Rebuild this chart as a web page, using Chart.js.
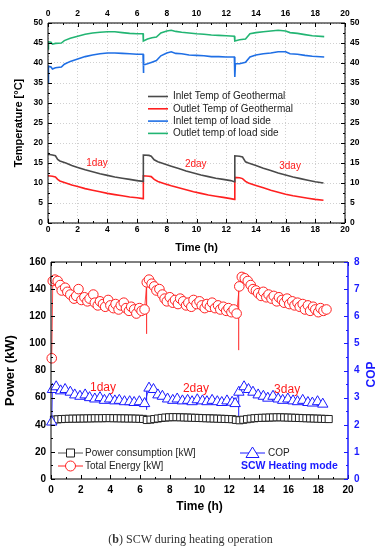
<!DOCTYPE html>
<html>
<head>
<meta charset="utf-8">
<script src="https://cdn.jsdelivr.net/npm/chart.js@4.4.0/dist/chart.umd.min.js"></script>
<style>
  html, body { margin: 0; padding: 0; background: #fff; }
  #wrap { position: relative; width: 381px; height: 550px; overflow: hidden; }
  #tempChart { position: absolute; left: 0; top: 0; }
  #powerChart { position: absolute; left: 0; top: 250px; }
  #caption { position: absolute; left: 0; top: 532px; width: 381px; text-align: center;
             font: 12px "Liberation Serif", "DejaVu Serif", serif; color: #333; }
</style>
</head>
<body>
<div id="wrap">
  <canvas id="tempChart" width="381" height="258"></canvas>
  <canvas id="powerChart" width="381" height="265"></canvas>
  <div id="caption">(<b>b</b>) SCW during heating operation</div>
</div>
<script>
// ---------- top panel: temperatures [°C] vs time (h) ----------
const geoTime = [0, 0.3, 0.5, 0.65, 0.8, 1.2, 1.6, 2, 2.5, 3, 3.5, 4, 4.5, 5, 5.5, 6, 6.4,
  6.42, 6.8, 6.95, 7.15, 7.4, 7.8, 8.3, 8.8, 9.3, 9.8, 10.3, 10.8, 11.3, 11.8, 12.3, 12.55,
  12.58, 12.9, 13.1, 13.3, 13.5, 14, 14.5, 15, 15.5, 16, 16.5, 17, 17.5, 18, 18.55];
const geoInlet = [17.2, 17.0, 16.8, 15.9, 15.5, 15.0, 14.4, 13.9, 13.3, 12.8, 12.3, 11.9, 11.5, 11.2, 10.9, 10.6, 10.4,
  17.0, 16.9, 16.7, 15.8, 15.3, 14.8, 14.2, 13.6, 13.0, 12.5, 12.0, 11.6, 11.2, 10.9, 10.6, 10.3,
  16.8, 16.7, 16.5, 15.3, 15.0, 14.4, 13.7, 13.1, 12.5, 12.0, 11.5, 11.1, 10.7, 10.3, 10.0];
const geoOutlet = [11.8, 11.7, 11.5, 10.9, 10.5, 10.0, 9.5, 9.1, 8.6, 8.2, 7.8, 7.4, 7.1, 6.8, 6.5, 6.3, 6.1,
  11.8, 11.7, 11.6, 10.9, 10.4, 9.9, 9.3, 8.8, 8.3, 7.8, 7.4, 7.0, 6.7, 6.4, 6.1, 5.9,
  11.4, 11.3, 11.1, 10.4, 10.0, 9.4, 8.8, 8.2, 7.7, 7.2, 6.8, 6.5, 6.2, 5.9, 5.7];

const loadInTime = [0, 0.03, 0.2, 0.3, 0.5, 0.9, 1.1, 1.5, 2, 2.5, 3, 3.5, 4, 4.5, 5, 5.5, 6, 6.4,
  6.42, 6.45, 6.7, 7.0, 7.3, 7.6, 8.0, 8.3, 8.6, 9, 9.5, 10, 10.5, 11, 11.5, 12, 12.55,
  12.58, 12.62, 12.9, 13.3, 13.6, 14, 14.5, 15, 15.5, 16, 16.3, 16.8, 17.3, 17.8, 18.6];
const loadInlet = [35.0, 39.2, 39.0, 38.5, 38.8, 39.0, 39.7, 40.4, 41.0, 41.6, 42.0, 42.3, 42.5, 42.5, 42.4, 42.3, 42.2, 42.2,
  37.5, 39.5, 39.8, 40.2, 40.6, 41.8, 42.5, 42.8, 42.4, 42.3, 42.0, 41.9, 41.8, 41.6, 41.6, 41.5, 41.5,
  36.5, 39.8, 39.8, 40.2, 41.5, 42.0, 42.3, 42.5, 42.8, 42.8, 42.3, 42.2, 41.9, 41.7, 41.5];

const loadOutTime = [0, 0.03, 0.2, 0.3, 0.5, 0.9, 1.1, 1.5, 2, 2.5, 3, 3.5, 4, 4.5, 5, 5.5, 6, 6.4,
  6.42, 6.7, 7.0, 7.3, 7.6, 8.0, 8.3, 8.6, 9, 9.5, 10, 10.5, 11, 11.5, 12, 12.55,
  12.58, 12.9, 13.3, 13.6, 14, 14.5, 15, 15.5, 16, 16.3, 16.8, 17.3, 17.8, 18.6];
const loadOutlet = [43.5, 45.3, 45.2, 44.7, 44.9, 45.0, 45.6, 46.2, 46.7, 47.2, 47.5, 47.7, 47.8, 47.8, 47.6, 47.4, 47.3, 47.3,
  45.5, 46.0, 46.3, 46.5, 47.5, 48.0, 48.2, 47.9, 47.7, 47.5, 47.3, 47.2, 47.0, 46.9, 46.8, 46.7,
  45.5, 45.8, 46.0, 47.3, 47.6, 47.8, 48.0, 48.2, 48.0, 47.6, 47.4, 47.1, 46.8, 46.6];

// ---------- bottom panel: power (kW) and COP vs time (h) ----------
const powerTime = [0.2, 0.45, 0.7, 0.95, 1.2, 1.45, 1.7, 1.95, 2.2, 2.45, 2.7, 2.95, 3.2, 3.45, 3.7, 3.95, 4.2, 4.45, 4.7, 4.95, 5.2, 5.45, 5.7, 5.95, 6.2,
  6.45, 6.7, 6.95, 7.2, 7.45, 7.7, 7.95, 8.2, 8.45, 8.7, 8.95, 9.2, 9.45, 9.7, 9.95, 10.2, 10.45, 10.7, 10.95, 11.2, 11.45, 11.7, 11.95, 12.2, 12.45,
  12.7, 12.95, 13.2, 13.45, 13.7, 13.95, 14.2, 14.45, 14.7, 14.95, 15.2, 15.45, 15.7, 15.95, 16.2, 16.45, 16.7, 16.95, 17.2, 17.45, 17.7, 17.95, 18.2, 18.45, 18.7];
const powerUse = [43.8, 44.0, 44.2, 44.3, 44.4, 44.5, 44.5, 44.6, 44.6, 44.7, 44.7, 44.8, 44.8, 44.8, 44.9, 44.9, 44.8, 44.8, 44.7, 44.7, 44.6, 44.6, 44.5, 44.4, 44.3,
  43.5, 43.8, 44.2, 44.6, 45.0, 45.3, 45.5, 45.6, 45.6, 45.5, 45.4, 45.3, 45.2, 45.1, 45.0, 44.9, 44.8, 44.7, 44.6, 44.5, 44.4, 44.3, 44.2, 44.1, 43.6,
  43.3, 43.7, 44.1, 44.5, 44.8, 45.0, 45.1, 45.2, 45.3, 45.4, 45.5, 45.5, 45.4, 45.3, 45.2, 45.1, 45.0, 44.9, 44.8, 44.7, 44.6, 44.5, 44.4, 44.3, 44.2];

const energyTime = [0.05, 0.12, 0.27, 0.45, 0.62, 0.72, 0.95, 1.1, 1.3, 1.55, 1.7, 1.85, 2.05, 2.25, 2.45, 2.6, 2.85, 2.95, 3.15, 3.3, 3.5, 3.65, 3.85, 4.0, 4.2, 4.35, 4.55, 4.7, 4.9, 5.05, 5.25, 5.4, 5.6, 5.75, 5.95, 6.1, 6.3,
  6.45, 6.6, 6.78, 6.95, 7.1, 7.3, 7.5, 7.65, 7.8, 8.0, 8.2, 8.35, 8.55, 8.7, 8.9, 9.1, 9.25, 9.45, 9.6, 9.8, 10.0, 10.15, 10.35, 10.5, 10.7, 10.85, 11.05, 11.25, 11.4, 11.6, 11.8, 11.95, 12.15, 12.3, 12.5,
  12.68, 12.85, 13.05, 13.25, 13.45, 13.6, 13.8, 13.95, 14.15, 14.3, 14.5, 14.65, 14.85, 15.0, 15.2, 15.35, 15.55, 15.7, 15.9, 16.05, 16.25, 16.4, 16.6, 16.75, 16.95, 17.1, 17.3, 17.45, 17.65, 17.8, 18.0, 18.15, 18.35, 18.55];
const energyTotal = [89, 146, 147, 146, 143, 139, 141, 138, 136, 133, 135, 140, 132, 134, 131, 133, 136, 130, 128, 131, 129, 127, 132, 128, 126, 129, 125, 128, 130, 126, 124, 127, 125, 122, 126, 124, 125,
  145, 147, 144, 142, 139, 140, 136, 133, 131, 134, 130, 132, 129, 133, 131, 128, 130, 127, 132, 129, 131, 128, 126, 129, 127, 130, 126, 128, 125, 127, 124, 126, 123, 125, 122,
  142, 149, 148, 146, 143, 140, 139, 137, 135, 138, 134, 136, 133, 135, 131, 134, 132, 130, 133, 129, 131, 128, 130, 127, 129, 125, 128, 124, 127, 125, 123, 126, 124, 125];

const copTime = [0.05, 0.1, 0.35, 0.65, 0.95, 1.3, 1.6, 1.95, 2.3, 2.6, 2.95, 3.3, 3.6, 3.95, 4.3, 4.6, 4.95, 5.3, 5.6, 5.95, 6.3,
  6.6, 6.9, 7.2, 7.5, 7.85, 8.2, 8.5, 8.85, 9.2, 9.5, 9.85, 10.2, 10.5, 10.85, 11.2, 11.5, 11.85, 12.2, 12.4,
  12.65, 13.0, 13.3, 13.6, 13.95, 14.3, 14.6, 14.95, 15.3, 15.6, 15.95, 16.3, 16.6, 16.95, 17.3, 17.6, 17.95, 18.3];
const copValue = [2.1, 3.3, 3.4, 3.25, 3.3, 3.2, 3.1, 3.05, 3.1, 3.0, 2.95, 3.0, 2.9, 2.95, 2.88, 2.9, 2.85, 2.85, 2.82, 2.85, 2.78,
  3.35, 3.3, 3.1, 3.05, 2.95, 2.9, 2.95, 2.88, 2.9, 2.85, 2.92, 2.88, 2.85, 2.9, 2.85, 2.82, 2.88, 2.83, 2.78,
  3.2, 3.4, 3.3, 3.2, 3.1, 3.05, 2.98, 3.05, 2.95, 2.9, 2.95, 2.88, 2.85, 2.9, 2.82, 2.8, 2.85, 2.76];

// start-up transients at the beginning of day 2 and day 3
const spikeTime = [6.44, 12.64];
const energySpikeLow = [107, 95];
const energySpikeHigh = [146, 141];
const copSpikeLow = [2.55, 2.05];
const copSpikeHigh = [3.3, 3.2];

const dayLabels = ['1day', '2day', '3day'];
const dayLabelTimeTop = [3.3, 9.95, 16.3];
const dayLabelTemp = [15, 14.75, 14.3];
const dayLabelTimeBottom = [3.5, 9.76, 15.9];
const dayLabelPower = [67, 66.6, 66];

const FONT = '"Liberation Sans", Arial, sans-serif';
const pts = (t, v) => t.map((x, i) => ({ x, y: v[i] }));
const spikes = (t, lo, hi) => t.flatMap((x, i) => [{ x, y: lo[i] }, { x, y: hi[i] }, { x, y: null }]);

// frame + inward tick marks (major / minor) drawn on the plot border
function makeFrame(edges) {
  return {
    id: 'frame',
    afterDraw(chart) {
      const { ctx, chartArea: a, scales } = chart;
      ctx.save();
      edges.forEach((e) => {
        const s = scales[e.scale];
        ctx.strokeStyle = e.color;
        ctx.lineWidth = e.width;
        ctx.beginPath();
        if (e.side === 'bottom') { ctx.moveTo(a.left, a.bottom); ctx.lineTo(a.right, a.bottom); }
        if (e.side === 'top') { ctx.moveTo(a.left, a.top); ctx.lineTo(a.right, a.top); }
        if (e.side === 'left') { ctx.moveTo(a.left, a.top); ctx.lineTo(a.left, a.bottom); }
        if (e.side === 'right') { ctx.moveTo(a.right, a.top); ctx.lineTo(a.right, a.bottom); }
        ctx.stroke();
        ctx.lineWidth = 1;
        ctx.beginPath();
        for (let v = s.min; v <= s.max + 1e-9; v += e.minor) {
          const isMajor = Math.abs(v / e.major - Math.round(v / e.major)) < 1e-6;
          const len = isMajor ? 4 : 2;
          const p = Math.round(s.getPixelForValue(v)) + 0.5;
          if (e.side === 'bottom') { ctx.moveTo(p, a.bottom); ctx.lineTo(p, a.bottom - len); }
          if (e.side === 'top') { ctx.moveTo(p, a.top); ctx.lineTo(p, a.top + len); }
          if (e.side === 'left') { ctx.moveTo(a.left, p); ctx.lineTo(a.left + len, p); }
          if (e.side === 'right') { ctx.moveTo(a.right, p); ctx.lineTo(a.right - len, p); }
        }
        ctx.stroke();
      });
      ctx.restore();
    }
  };
}

const tempLegend = {
  id: 'tempLegend',
  afterDatasetsDraw(chart) {
    const { ctx, scales } = chart;
    ctx.save();
    ctx.font = '10px ' + FONT;
    ctx.textBaseline = 'middle';
    chart.data.datasets.forEach((ds, i) => {
      const y = 96.5 + i * 12.3;
      ctx.strokeStyle = ds.borderColor;
      ctx.lineWidth = 1.6;
      ctx.beginPath(); ctx.moveTo(148, y); ctx.lineTo(168, y); ctx.stroke();
      ctx.fillStyle = '#222';
      ctx.fillText(ds.label, 173, y);
    });
    ctx.fillStyle = '#ff1a1a';
    ctx.textAlign = 'center';
    dayLabels.forEach((txt, i) => {
      ctx.fillText(txt, scales.x.getPixelForValue(dayLabelTimeTop[i]), scales.y.getPixelForValue(dayLabelTemp[i]));
    });
    ctx.restore();
  }
};

const tickFontTop = { family: FONT, size: 8.5, weight: 'bold' };
const titleFontTop = { family: FONT, size: 11, weight: 'bold' };
const dotGrid = { color: '#c4c4c4', lineWidth: 0.8, drawTicks: false };

new Chart(document.getElementById('tempChart'), {
  type: 'line',
  data: {
    datasets: [
      { label: 'Inlet Temp of Geothermal', data: pts(geoTime, geoInlet), borderColor: '#4a4a4a' },
      { label: 'Outlet Temp of Geothermal', data: pts(geoTime, geoOutlet), borderColor: '#ff2020' },
      { label: 'Inlet temp of load side', data: pts(loadInTime, loadInlet), borderColor: '#1f6fe5' },
      { label: 'Outlet temp of load side', data: pts(loadOutTime, loadOutlet), borderColor: '#22b573' }
    ]
  },
  options: {
    responsive: false,
    animation: false,
    layout: { padding: 0 },
    elements: { line: { borderWidth: 1.6, tension: 0 }, point: { radius: 0 } },
    plugins: { legend: { display: false }, tooltip: { enabled: false } },
    scales: {
      x: {
        type: 'linear', position: 'bottom', min: 0, max: 20,
        ticks: { stepSize: 2, padding: 2, color: '#000', font: tickFontTop },
        grid: dotGrid, border: { display: false, dash: [1, 2] },
        title: { display: true, text: 'Time (h)', color: '#000', font: titleFontTop, padding: { top: 0, bottom: 3 } },
        afterFit: (s) => { s.height = 35; }
      },
      x2: {
        type: 'linear', position: 'top', min: 0, max: 20,
        ticks: { stepSize: 2, padding: 4, color: '#000', font: tickFontTop },
        grid: { display: false, drawTicks: false }, border: { display: false },
        afterFit: (s) => { s.height = 23; }
      },
      y: {
        type: 'linear', position: 'left', min: 0, max: 50,
        ticks: { stepSize: 5, padding: 5, color: '#000', font: tickFontTop },
        grid: dotGrid, border: { display: false, dash: [1, 2] },
        title: { display: true, text: 'Temperature [°C]', color: '#000', font: titleFontTop, padding: { top: 12, bottom: 0 } },
        afterFit: (s) => { s.width = 48; }
      },
      y2: {
        type: 'linear', position: 'right', min: 0, max: 50,
        ticks: { stepSize: 5, padding: 5, color: '#000', font: tickFontTop },
        grid: { display: false, drawTicks: false }, border: { display: false },
        afterFit: (s) => { s.width = 36; }
      }
    }
  },
  plugins: [tempLegend, makeFrame([
    { scale: 'x', side: 'bottom', color: '#000', width: 1, major: 2, minor: 1 },
    { scale: 'x', side: 'top', color: '#000', width: 1, major: 2, minor: 1 },
    { scale: 'y', side: 'left', color: '#000', width: 1, major: 5, minor: 2.5 },
    { scale: 'y', side: 'right', color: '#000', width: 1, major: 5, minor: 2.5 }
  ])]
});

// ---------- bottom chart ----------
const BLUE = '#1a1aff';
const RED = '#ff2020';

const powerLegend = {
  id: 'powerLegend',
  afterDatasetsDraw(chart) {
    const { ctx, scales, chartArea: a } = chart;
    ctx.save();
    ctx.textBaseline = 'middle';
    const rows = [
      { y: 203, x0: 58, x1: 83, tx: 85, line: '#555', stroke: '#222', shape: 'rect', text: 'Power consumption [kW]' },
      { y: 216, x0: 58, x1: 83, tx: 85, line: RED, stroke: RED, shape: 'circle', text: 'Total Energy [kW]' },
      { y: 203, x0: 240, x1: 265, tx: 268, line: BLUE, stroke: BLUE, shape: 'triangle', text: 'COP' }
    ];
    rows.forEach((r) => {
      const cx = (r.x0 + r.x1) / 2;
      ctx.strokeStyle = r.line; ctx.lineWidth = 1;
      ctx.beginPath(); ctx.moveTo(r.x0, r.y); ctx.lineTo(r.x1, r.y); ctx.stroke();
      ctx.fillStyle = '#fff'; ctx.strokeStyle = r.stroke;
      ctx.beginPath();
      if (r.shape === 'rect') ctx.rect(cx - 4, r.y - 4, 8, 8);
      if (r.shape === 'circle') ctx.arc(cx, r.y, 5, 0, Math.PI * 2);
      if (r.shape === 'triangle') { ctx.moveTo(cx, r.y - 6); ctx.lineTo(cx + 6.5, r.y + 4.5); ctx.lineTo(cx - 6.5, r.y + 4.5); ctx.closePath(); }
      ctx.fill(); ctx.stroke();
      ctx.fillStyle = '#222'; ctx.font = '10px ' + FONT;
      ctx.fillText(r.text, r.tx, r.y);
    });
    ctx.fillStyle = BLUE;
    ctx.font = 'bold 10.5px ' + FONT;
    ctx.fillText('SCW Heating mode', 241, 216);
    ctx.fillStyle = '#ff1a1a';
    ctx.font = '12px ' + FONT;
    ctx.textAlign = 'center';
    dayLabels.forEach((txt, i) => {
      ctx.fillText(txt, scales.x.getPixelForValue(dayLabelTimeBottom[i]), scales.y.getPixelForValue(dayLabelPower[i]));
    });
    // right axis title reads bottom-to-top like the left one
    ctx.translate(372, (a.top + a.bottom) / 2 + 4);
    ctx.rotate(-Math.PI / 2);
    ctx.fillStyle = BLUE;
    ctx.font = 'bold 12px ' + FONT;
    ctx.fillText('COP', 0, 0);
    ctx.restore();
  }
};

const tickFontBot = { family: FONT, size: 10, weight: 'bold' };
const titleFontBot = { family: FONT, size: 12, weight: 'bold' };

new Chart(document.getElementById('powerChart'), {
  type: 'line',
  data: {
    datasets: [
      { label: 'Total Energy [kW]', data: pts(energyTime, energyTotal), borderColor: RED, borderWidth: 0.8,
        pointStyle: 'circle', pointRadius: 4.8, pointBorderColor: RED, pointBackgroundColor: '#fff', pointBorderWidth: 1, clip: false },
      { label: 'COP', yAxisID: 'y2', data: pts(copTime, copValue), borderColor: BLUE, borderWidth: 0.8,
        pointStyle: 'triangle', pointRadius: 6, pointBorderColor: BLUE, pointBackgroundColor: '#fff', pointBorderWidth: 1, clip: false },
      { label: 'Power consumption [kW]', data: pts(powerTime, powerUse), borderColor: '#666', borderWidth: 0.8,
        pointStyle: 'rect', pointRadius: 5, pointBorderColor: '#222', pointBackgroundColor: '#fff', pointBorderWidth: 1, clip: false },
      { label: 'energy transient', data: spikes(spikeTime, energySpikeLow, energySpikeHigh), borderColor: RED, borderWidth: 1, pointRadius: 0, spanGaps: false },
      { label: 'cop transient', yAxisID: 'y2', data: spikes(spikeTime, copSpikeLow, copSpikeHigh), borderColor: BLUE, borderWidth: 1, pointRadius: 0, spanGaps: false }
    ]
  },
  options: {
    responsive: false,
    animation: false,
    layout: { padding: { top: 8 } },
    elements: { line: { tension: 0 } },
    plugins: { legend: { display: false }, tooltip: { enabled: false } },
    scales: {
      x: {
        type: 'linear', position: 'bottom', min: 0, max: 20,
        ticks: { stepSize: 2, padding: 5, color: '#000', font: tickFontBot },
        grid: { display: false, drawTicks: false }, border: { display: false },
        title: { display: true, text: 'Time (h)', color: '#000', font: titleFontBot, padding: { top: 0, bottom: 1 } },
        afterFit: (s) => { s.height = 36; }
      },
      y: {
        type: 'linear', position: 'left', min: 0, max: 160,
        ticks: { stepSize: 20, padding: 5, color: '#000', font: tickFontBot },
        grid: { display: false, drawTicks: false }, border: { display: false },
        title: { display: true, text: 'Power (kW)', color: '#000', font: { family: FONT, size: 13, weight: 'bold' }, padding: { top: 3, bottom: 0 } },
        afterFit: (s) => { s.width = 51; }
      },
      y2: {
        type: 'linear', position: 'right', min: 0, max: 8,
        ticks: { stepSize: 1, padding: 6, color: BLUE, font: tickFontBot },
        grid: { display: false, drawTicks: false }, border: { display: false },
        afterFit: (s) => { s.width = 33; }
      }
    }
  },
  plugins: [powerLegend, makeFrame([
    { scale: 'x', side: 'bottom', color: '#000', width: 1, major: 2, minor: 1 },
    { scale: 'x', side: 'top', color: '#000', width: 1, major: 2, minor: 1 },
    { scale: 'y', side: 'left', color: '#000', width: 1, major: 20, minor: 10 },
    { scale: 'y2', side: 'right', color: BLUE, width: 1.5, major: 1, minor: 0.5 }
  ])]
});
</script>
</body>
</html>
